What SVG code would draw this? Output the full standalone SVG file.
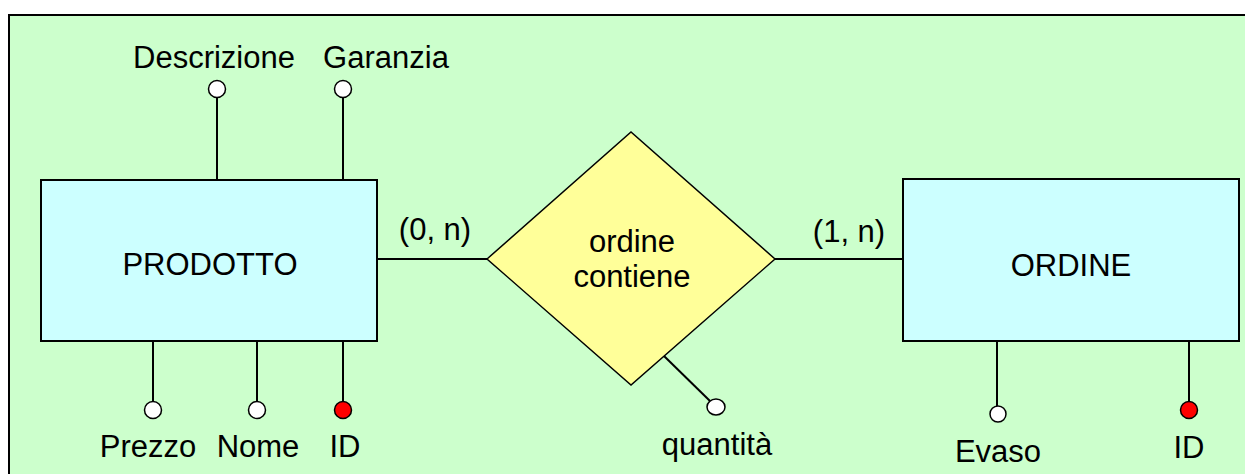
<svg xmlns="http://www.w3.org/2000/svg" width="1245" height="474" viewBox="0 0 1245 474">
<style>
text{font-family:"Liberation Sans",Arial,sans-serif;font-size:31px;fill:#000;text-anchor:middle}
.ent{fill:#CCFFFF;stroke:#000;stroke-width:2}
.rel{fill:#FFFF99;stroke:#000;stroke-width:1.5}
.ln{stroke:#000;stroke-width:2;fill:none}
.att{fill:#fff;stroke:#000;stroke-width:1.5}
.key{fill:#FF0000;stroke:#000;stroke-width:1.5}
</style>
<rect x="9" y="15" width="1250" height="470" fill="#CCFFCC" stroke="#000" stroke-width="2"/>
<g id="connectors">
<line class="ln" x1="377" y1="259" x2="487" y2="259"/>
<line class="ln" x1="775" y1="259" x2="903" y2="259"/>
<line class="ln" x1="217" y1="98" x2="217" y2="180"/>
<line class="ln" x1="343" y1="98" x2="343" y2="180"/>
<line class="ln" x1="153" y1="341" x2="153" y2="401"/>
<line class="ln" x1="257" y1="341" x2="257" y2="401"/>
<line class="ln" x1="343" y1="341" x2="343" y2="401"/>
<line class="ln" x1="664" y1="356" x2="710" y2="401"/>
<line class="ln" x1="997" y1="341" x2="997" y2="406"/>
<line class="ln" x1="1189" y1="341" x2="1189" y2="401"/>
<text x="435" y="240">(0, n)</text>
<text x="849" y="242">(1, n)</text>
</g>
<g id="prodotto">
<rect class="ent" x="41" y="180" width="336" height="161"/>
<text x="210" y="275">PRODOTTO</text>
</g>
<g id="ordine">
<rect class="ent" x="903" y="179" width="336" height="162"/>
<text x="1071" y="276">ORDINE</text>
</g>
<g id="ordine-contiene">
<polygon class="rel" points="487,259 631,132 775,259 631,385"/>
<text x="632" y="252">ordine</text>
<text x="632" y="287">contiene</text>
</g>
<g id="attr-descrizione">
<circle class="att" cx="217" cy="89" r="8.5"/>
<text x="214" y="68">Descrizione</text>
</g>
<g id="attr-garanzia">
<circle class="att" cx="343" cy="89" r="8.5"/>
<text x="386" y="68">Garanzia</text>
</g>
<g id="attr-prezzo">
<circle class="att" cx="153" cy="410" r="8.5"/>
<text x="148" y="457">Prezzo</text>
</g>
<g id="attr-nome">
<circle class="att" cx="257" cy="410" r="8.5"/>
<text x="258" y="457">Nome</text>
</g>
<g id="attr-id-prodotto">
<circle class="key" cx="343" cy="410" r="8.5"/>
<text x="345" y="457">ID</text>
</g>
<g id="attr-quantita">
<ellipse class="att" cx="716" cy="407" rx="9" ry="8"/>
<text x="717" y="455">quantità</text>
</g>
<g id="attr-evaso">
<circle class="att" cx="998" cy="414" r="8"/>
<text x="998" y="462">Evaso</text>
</g>
<g id="attr-id-ordine">
<circle class="key" cx="1189" cy="410" r="8.5"/>
<text x="1189" y="458">ID</text>
</g>
</svg>
